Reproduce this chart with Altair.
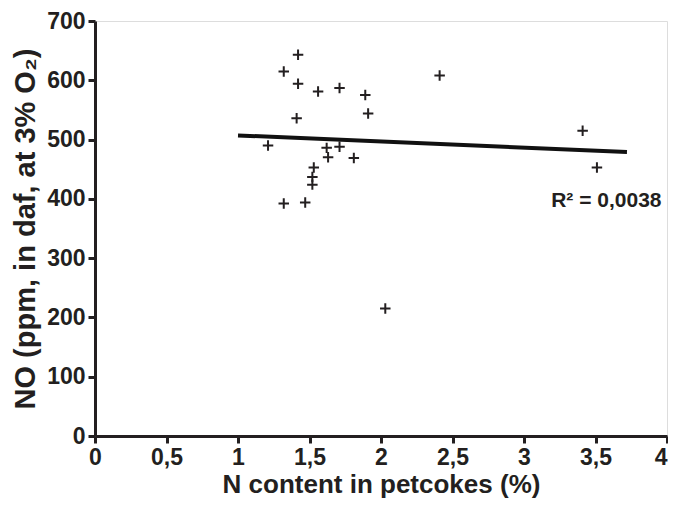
import altair as alt
import pandas as pd

# Scatter data
n_content = [1.42, 1.32, 1.42, 1.56, 1.71, 1.89, 1.91, 1.41, 1.21, 1.62, 1.71,
             1.63, 1.81, 1.53, 1.52, 1.52, 1.32, 1.47, 2.41, 3.41, 3.51, 2.03]
no_ppm = [643, 615, 594, 581, 587, 575, 544, 536, 490, 486, 488,
          470, 469, 453, 437, 424, 392, 394, 608, 515, 453, 215]

# Trend line endpoints
line_x = [1.0, 3.72]
line_y = [507, 479]

# Annotation
ann_x = [3.19]
ann_y = [387]
ann_text = ["R² = 0,0038"]

x_ticks = [0, 0.5, 1, 1.5, 2, 2.5, 3, 3.5, 4]
y_ticks = [0, 100, 200, 300, 400, 500, 600, 700]

pts = pd.DataFrame({"x": n_content, "y": no_ppm})
ln = pd.DataFrame({"x": line_x, "y": line_y})
ann = pd.DataFrame({"x": ann_x, "y": ann_y, "t": ann_text})

FONT = "Liberation Sans"
TXT = "#231f20"

xs = alt.Scale(domain=[0, 4], nice=False, zero=False)
ys = alt.Scale(domain=[0, 700], nice=False, zero=False)

xaxis = alt.Axis(values=x_ticks, title="N content in petcokes (%)",
                 labelExpr="replace(toString(datum.value), '.', ',')",
                 labelAlign={"condition": {"test": "datum.value == 4", "value": "right"},
                             "value": "center"},
                 grid=False, domainColor=TXT, domainWidth=3,
                 tickColor=TXT, tickWidth=3, tickSize=7,
                 labelFont=FONT, labelFontWeight="bold", labelFontSize=23,
                 labelColor=TXT, labelPadding=3, labelFlush=False,
                 titleFont=FONT, titleFontWeight="bold", titleFontSize=26,
                 titleColor=TXT, titlePadding=2)
yaxis = alt.Axis(values=y_ticks, title="NO (ppm, in daf, at 3% O₂)",
                 grid=False, domainColor=TXT, domainWidth=3,
                 tickColor=TXT, tickWidth=3, tickSize=7,
                 labelFont=FONT, labelFontWeight="bold", labelFontSize=23,
                 labelColor=TXT, labelPadding=3, labelFlush=False,
                 titleFont=FONT, titleFontWeight="bold", titleFontSize=29,
                 titleColor=TXT, titlePadding=6)

points = alt.Chart(pts).mark_point(
    shape="M-1,0H1M0,-1V1", filled=False, stroke=TXT, strokeWidth=2, size=110, opacity=1
).encode(
    x=alt.X("x:Q", scale=xs, axis=xaxis),
    y=alt.Y("y:Q", scale=ys, axis=yaxis),
)

trend = alt.Chart(ln).mark_line(color="#111", strokeWidth=4).encode(
    x=alt.X("x:Q", scale=xs), y=alt.Y("y:Q", scale=ys)
)

label = alt.Chart(ann).mark_text(
    align="left", baseline="alphabetic", font=FONT, fontWeight="bold",
    fontSize=21, color=TXT
).encode(x=alt.X("x:Q", scale=xs), y=alt.Y("y:Q", scale=ys), text="t:N")

chart = alt.layer(points, trend, label).properties(
    width=572, height=415,
    autosize=alt.AutoSizeParams(type="none"),
    padding={"left": 87, "top": 13, "right": 1, "bottom": 62},
).configure_view(stroke=TXT, strokeWidth=3).configure(background="white")

chart.save("out.html", embed_options={"renderer": "svg", "actions": False})
